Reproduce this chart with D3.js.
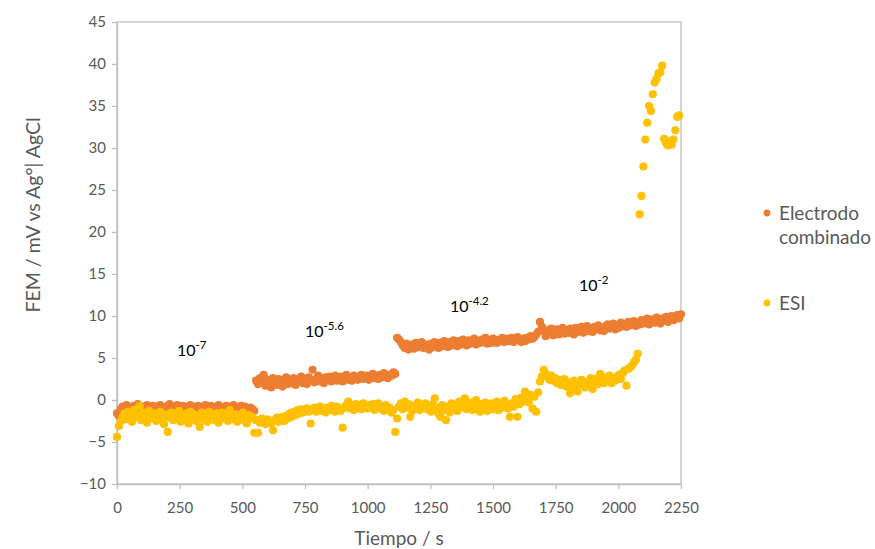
<!DOCTYPE html>
<html>
<head>
<meta charset="utf-8">
<script src="https://cdn.jsdelivr.net/npm/d3@7"></script>
<style>
  html, body { margin: 0; padding: 0; background: #ffffff; }
  svg { display: block; }
  text { font-family: Lato, "Open Sans", "Noto Sans", sans-serif; }
</style>
</head>
<body>
<svg id="chart" width="875" height="549"></svg>
<script>
// Readings taken every 7.5 s from t = 0 s
const samplingInterval = 7.5;

// Electrodo combinado, mV (t = 0 ... 2250 s)
const electrodo = [
  -1.6, -1.9, -1.1, -0.8, -1.3, -0.6, -1.0, -0.9, -1.4, -0.7, -1.1, -0.5, -0.9, -1.2, -0.8,
  -1.0, -0.6, -1.3, -0.9, -0.7, -1.1, -0.8, -1.4, -0.6, -1.0, -0.9, -1.2, -0.7, -0.5, -1.0,
  -0.8, -1.1, -0.6, -1.3, -0.9, -0.7, -1.0, -1.2, -0.8, -0.6, -1.1, -0.9, -1.4, -0.7, -1.0,
  -0.8, -1.2, -0.6, -0.9, -1.1, -0.7, -1.0, -1.3, -0.8, -0.6, -1.0, -0.9, -1.2, -0.7, -1.1,
  -0.8, -1.0, -0.6, -1.3, -0.9, -1.1, -0.7, -1.2, -0.8, -1.0, -1.4, -0.9, -1.1, -1.3,
  2.3, 1.9, 2.6, 2.1, 3.0, 1.7, 2.4, 2.0, 1.5, 2.6, 2.2, 1.8, 2.5, 2.1, 1.6,
  2.4, 2.7, 1.9, 2.3, 2.0, 2.6, 1.8, 2.5, 2.2, 2.8, 2.0, 2.4, 1.9, 2.7, 2.3,
  3.6, 2.1, 2.5, 2.9, 2.2, 2.6, 2.0, 2.7, 2.4, 2.8, 2.2, 2.5, 2.9, 2.3, 2.6,
  2.8, 2.2, 2.5, 3.0, 2.4, 2.7, 2.3, 2.9, 2.6, 2.4, 2.8, 3.0, 2.5, 2.7, 2.9,
  2.4, 2.8, 3.1, 2.6, 2.9, 2.5, 3.0, 2.7, 3.2, 2.8, 2.6, 3.0, 2.9, 3.3, 3.1,
  7.4, 7.2, 6.9, 6.5, 6.2, 6.7, 6.0, 6.4, 6.6, 6.1, 6.8, 6.3, 6.5, 6.9, 6.2,
  6.6, 6.4, 6.0, 6.7, 6.3, 6.9, 6.5, 6.2, 6.8, 6.4, 7.0, 6.6, 6.3, 6.9, 6.5,
  7.1, 6.7, 6.4, 7.0, 6.6, 7.2, 6.8, 6.5, 7.1, 6.7, 6.9, 7.3, 6.6, 7.0, 6.8,
  7.2, 6.9, 7.4, 6.7, 7.1, 6.8, 7.3, 7.0, 6.8, 7.2, 7.0, 7.4, 6.9, 7.1, 7.3,
  7.0, 7.4, 6.9, 7.2, 7.5, 7.1, 6.9, 7.3, 7.0, 7.4, 7.2, 7.6, 7.3, 7.5, 7.8, 8.1,
  9.3, 8.7, 8.2, 7.6, 8.3, 7.9, 8.5, 7.7, 8.1, 8.4, 7.8, 8.2, 8.6, 7.9, 8.3,
  8.0, 8.5, 8.2, 7.8, 8.6, 8.1, 8.4, 8.7, 8.0, 8.3, 8.8, 8.2, 8.5, 8.1, 8.7,
  8.4, 8.9, 8.3, 8.6, 8.2, 8.8, 9.0, 8.5, 8.7, 9.1, 8.4, 8.9, 8.6, 9.2, 8.8,
  9.0, 8.7, 9.3, 8.9, 9.1, 9.4, 8.8, 9.2, 9.0, 9.5, 9.1, 9.3, 9.7, 9.0, 9.4,
  9.6, 9.2, 9.8, 9.4, 9.1, 9.7, 9.5, 9.9, 9.3, 9.6, 10.0, 9.5, 9.8, 10.1, 9.7, 10.2
];

// ESI, mV (t = 0 ... 2242.5 s)
const esi = [
  -4.4, -3.1, -2.5, -2.0, -1.6, -2.3, -1.4, -1.9, -2.6, -1.2, -2.1, -1.7, -0.7, -2.4, -1.5,
  -2.0, -2.7, -1.3, -1.8, -2.2, -1.6, -2.5, -1.9, -1.4, -2.3, -2.9, -1.7, -3.8, -2.1, -1.5,
  -2.4, -1.8, -2.0, -1.3, -2.6, -1.9, -2.2, -1.6, -2.8, -1.4, -2.1, -1.7, -2.5, -2.0, -3.2,
  -1.5, -2.3, -1.8, -2.6, -1.4, -2.1, -1.9, -2.4, -1.6, -2.7, -2.0, -1.5, -2.2, -1.8, -2.5,
  -1.2, -2.0, -2.3, -1.7, -2.6, -1.9, -2.1, -1.5, -2.4, -2.8, -1.8, -2.2, -2.0, -3.9,
  -2.4, -3.9, -2.7, -2.2, -2.6, -2.9, -2.3, -2.5, -2.8, -3.6, -2.4, -2.1, -2.6, -2.3, -2.0,
  -2.5, -1.9, -2.2, -1.6, -2.0, -1.4, -1.8, -1.2, -1.6, -1.1, -1.5, -1.3, -1.0, -1.4, -2.8,
  -1.2, -0.9, -1.4, -1.1, -0.8, -1.3, -1.0, -1.5, -0.9, -1.2, -0.7, -1.1, -1.4, -0.8, -1.0,
  -1.3, -3.3, -0.9, -0.6, -0.2, -1.0, -0.7, -1.2, -0.5, -0.9, -0.6, -1.1, -0.4, -0.8, -1.0,
  -0.6, -0.9, -0.5, -1.2, -0.7, -0.4, -1.0, -0.8, -1.3, -0.6, -1.1, -0.9, -1.5, -1.2, -3.8,
  -2.2, -0.8, -0.4, -1.1, -0.2, -0.9, -0.5, -2.0, -1.3, -0.7, -1.0, -0.3, -1.2, -0.6, -0.9,
  -0.4, -1.1, -0.7, -1.4, -0.5, 0.2, -0.9, -1.6, -2.0, -0.6, -1.2, -2.4, -0.8, -1.5, -0.4,
  -1.0, -0.6, -1.3, -0.2, -0.9, -0.5, 0.2, -1.1, -0.7, -0.3, -1.2, -0.6, 0.0, -0.9, -1.4,
  -0.5, -1.0, -0.3, -1.3, -0.7, -0.4, -1.1, -0.8, -0.2, -1.2, -0.6, -0.9, -0.1, -0.7, -1.0,
  -2.0, -0.4, -0.8, 0.1, -2.0, -0.5, 0.3, -0.2, 1.0, 0.4, -0.3, 0.6, -1.0, 0.4, -1.4, 0.9,
  2.2, 2.8, 3.6, 3.1, 2.7, 2.4, 2.9, 2.3, 2.6, 2.0, 2.4, 1.8, 2.2, 2.5, 1.6,
  2.1, 0.8, 1.7, 2.3, 1.4, 1.0, 1.9, 2.4, 2.0, 1.5, 2.2, 1.8, 2.6, 1.3, 2.1,
  2.5, 1.9, 3.1, 2.4, 2.0, 2.7, 2.2, 2.9, 2.0, 2.6, 2.3, 2.8, 3.0, 2.5, 3.2,
  3.5, 1.7, 3.7, 3.9, 4.1, 4.5, 4.8, 5.5,
  22.1, 24.3, 27.8, 31.0, 33.0, 35.0, 34.4, 36.4, 37.8, 38.2, 38.9, 39.0, 39.8,
  31.1, 30.6, 30.3, 30.8, 30.4, 31.0, 32.1, 33.7, 33.9
];

// Axis ticks
const timeTicks = [0, 250, 500, 750, 1000, 1250, 1500, 1750, 2000, 2250];
const femTicks = [-10, -5, 0, 5, 10, 15, 20, 25, 30, 35, 40, 45];

// Concentration annotations (mantissa, exponent, anchor in data units)
const concLabels = ["10", "10", "10", "10"];
const concExponents = ["-7", "-5.6", "-4.2", "-2"];
const concTimes = [239, 750, 1328, 1843];
const concValues = [5.2, 7.5, 10.5, 13.0];

const seriesNames = ["Electrodo combinado", "ESI"];
const seriesColors = ["#ED7D31", "#FFC000"];

const svg = d3.select("#chart");
const plot = { left: 117, right: 681, top: 22, bottom: 484 };

const x = d3.scaleLinear().domain([0, 2250]).range([plot.left, plot.right]);
const y = d3.scaleLinear().domain([-10, 45]).range([plot.bottom, plot.top]);

const axisColor = "#BFBFBF";
const labelColor = "#595959";

// Plot frame
svg.append("rect")
  .attr("x", plot.left).attr("y", plot.top)
  .attr("width", plot.right - plot.left).attr("height", plot.bottom - plot.top)
  .attr("fill", "none").attr("stroke", axisColor).attr("stroke-width", 1.3);

// X axis
const gx = svg.append("g")
  .attr("transform", `translate(0,${plot.bottom})`)
  .call(d3.axisBottom(x).tickValues(timeTicks).tickSize(5).tickSizeOuter(0).tickPadding(13)
    .tickFormat(d3.format("d")));
// Y axis
const gy = svg.append("g")
  .attr("transform", `translate(${plot.left},0)`)
  .call(d3.axisLeft(y).tickValues(femTicks).tickSize(5).tickSizeOuter(0).tickPadding(6)
    .tickFormat(d3.format("d")));

[gx, gy].forEach(g => {
  g.select(".domain").attr("stroke", axisColor).attr("stroke-width", 1.3);
  g.selectAll(".tick line").attr("stroke", axisColor).attr("stroke-width", 1.3);
  g.selectAll(".tick text").attr("fill", labelColor)
    .style("font-size", "15px");
});

// Axis titles
svg.append("text")
  .attr("x", (plot.left + plot.right) / 2).attr("y", 545)
  .attr("text-anchor", "middle").attr("fill", labelColor)
  .style("font-size", "19px").text("Tiempo / s");

svg.append("text")
  .attr("transform", `translate(40,215) rotate(-90)`)
  .attr("text-anchor", "middle").attr("fill", labelColor)
  .style("font-size", "19.5px").text("FEM / mV vs Ag°| AgCl");

// Series points
const seriesData = [electrodo, esi];
seriesData.forEach((values, k) => {
  svg.append("g")
    .selectAll("circle")
    .data(values)
    .join("circle")
    .attr("cx", (v, i) => x(i * samplingInterval))
    .attr("cy", v => y(v))
    .attr("r", 4.1)
    .attr("fill", seriesColors[k]);
});

// Concentration annotations
concLabels.forEach((base, i) => {
  const t = svg.append("text")
    .attr("x", x(concTimes[i])).attr("y", y(concValues[i]))
    .attr("fill", "#000000")
    .style("font-size", "16px");
  t.append("tspan").text(base);
  t.append("tspan").attr("dy", -7).style("font-size", "11.5px").text(concExponents[i]);
});

// Legend
const legendRows = [
  { lines: ["Electrodo", "combinado"], cy: 213 },
  { lines: ["ESI"], cy: 303 }
];
legendRows.forEach((row, k) => {
  svg.append("circle")
    .attr("cx", 767).attr("cy", row.cy).attr("r", 3.4)
    .attr("fill", seriesColors[k]);
  const t = svg.append("text")
    .attr("x", 779).attr("y", row.cy + 6.5)
    .attr("fill", labelColor)
    .style("font-size", "19px");
  row.lines.forEach((line, j) => {
    t.append("tspan").attr("x", 779).attr("dy", j === 0 ? 0 : 24).text(line);
  });
});
</script>
</body>
</html>
